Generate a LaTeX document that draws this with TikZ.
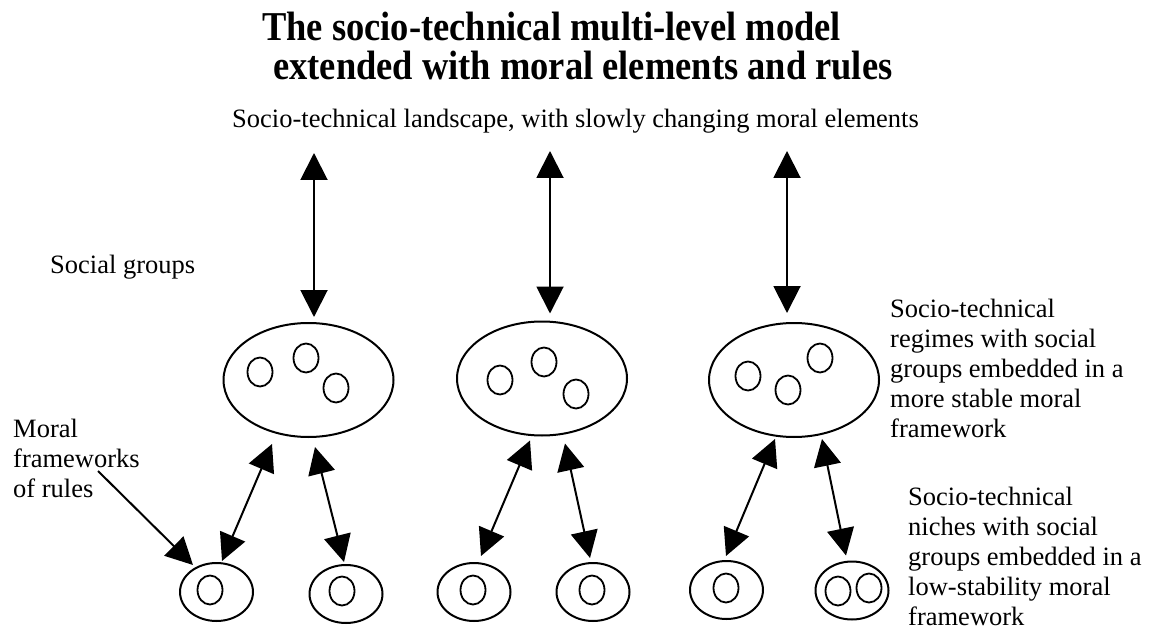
\documentclass[tikz,border=0pt]{standalone}
\usepackage{fontspec}
\setmainfont{Liberation Serif}
\newfontfamily\titlefont[FakeStretch=0.89]{Liberation Serif}
\usetikzlibrary{arrows.meta,shapes.geometric}
\begin{document}
\begin{tikzpicture}[x=1pt,y=-1pt,
  big/.style={ellipse,draw,line width=2pt,minimum width=170pt,minimum height=114pt,inner sep=0pt},
  small/.style={ellipse,draw,line width=2pt,minimum width=73pt,minimum height=58pt,inner sep=0pt},
  grp/.style={ellipse,draw,line width=1.8pt,minimum width=25pt,minimum height=29pt,inner sep=0pt},
  lbl/.style={font=\fontsize{26.5}{30}\selectfont,align=left,anchor=north west,inner sep=0pt},
  one/.style={font=\fontsize{26.5}{30}\selectfont,anchor=base west,inner sep=0pt},
  link/.style={line width=2pt,{Triangle[length=27pt,width=27pt]}-{Triangle[length=27pt,width=27pt]}},
  pointer/.style={line width=2pt,-{Triangle[length=27pt,width=27pt]}}
]
\useasboundingbox (0,0) rectangle (1151,631);

% title and labels
\node[anchor=north west,inner sep=0pt,align=left,font=\titlefont\bfseries\fontsize{41}{39}\selectfont] (title) at (262,12.3)
  {The socio-technical multi-level model\\\hspace*{11pt}extended with moral elements and rules};
\node[one] (land) at (232,128) {Socio-technical landscape, with slowly changing moral elements};
\node[one] (social) at (50,273) {Social groups};
\node[lbl] (regimelbl) at (890,299) {Socio-technical\\regimes with social\\groups embedded in a\\more stable moral\\framework};
\node[lbl] (nichelbl) at (908,487) {Socio-technical\\niches with social\\groups embedded in a\\low-stability moral\\framework};
\node[lbl] (morallbl) at (13,419) {Moral\\frameworks\\of rules};

% regimes
\node[big] (big1) at (308.5,380) {};
\node[big] (big2) at (542,378.5) {};
\node[big] (big3) at (794,380) {};
\node[grp] (g11) at (260,372) {};
\node[grp] (g12) at (306,358) {};
\node[grp] (g13) at (336,388) {};
\node[grp] (g21) at (500,380) {};
\node[grp] (g22) at (544,362) {};
\node[grp] (g23) at (576,394) {};
\node[grp] (g31) at (748,376) {};
\node[grp] (g32) at (788,390) {};
\node[grp] (g33) at (820,358) {};

% niches
\node[small] (small1) at (216.5,592) {};
\node[small] (small2) at (346,594) {};
\node[small] (small3) at (474,592) {};
\node[small] (small4) at (593,592) {};
\node[small] (small5) at (726.5,590) {};
\node[small] (small6) at (852,590.5) {};
\node[grp] (n1) at (210,590) {};
\node[grp] (n2) at (342,591) {};
\node[grp] (n3) at (473,590) {};
\node[grp] (n4) at (592,590) {};
\node[grp] (n5) at (726,588) {};
\node[grp] (n61) at (838,591) {};
\node[grp] (n62) at (869,588) {};

% landscape ends
\coordinate (top1) at (314,153);
\coordinate (top2) at (550,151);
\coordinate (top3) at (787,151);
\coordinate (moralstart) at (98,471);

% landscape <-> regimes
\draw[link] (top1) -- ([xshift=5.5pt,yshift=5pt]big1.north);
\draw[link] (top2) -- ([xshift=8pt,yshift=7pt]big2.north);
\draw[link] (top3) -- ([xshift=-7pt,yshift=9pt]big3.north);

% regimes <-> niches
\draw[link] ([xshift=-36.5pt,yshift=-6pt]big1.south) -- ([xshift=5.5pt,yshift=1pt]small1.north);
\draw[link] ([xshift=6.5pt,yshift=-9pt]big1.south) -- ([xshift=-2pt,yshift=2pt]small2.north);
\draw[link] ([xshift=-12pt,yshift=-4pt]big2.south) -- ([xshift=7pt,yshift=6pt]small3.north);
\draw[link] ([xshift=23pt,yshift=-7pt]big2.south) -- ([xshift=-3pt,yshift=4pt]small4.north);
\draw[link] ([xshift=-19pt,yshift=-1pt]big3.south) -- ([xshift=-0.5pt,yshift=4pt]small5.north);
\draw[link] ([xshift=28pt,yshift=-1pt]big3.south) -- ([xshift=-6pt,yshift=5pt]small6.north);

% moral frameworks pointer
\draw[pointer] (moralstart) -- ([xshift=-23.5pt,yshift=27pt]small1.center);
\end{tikzpicture}
\end{document}
